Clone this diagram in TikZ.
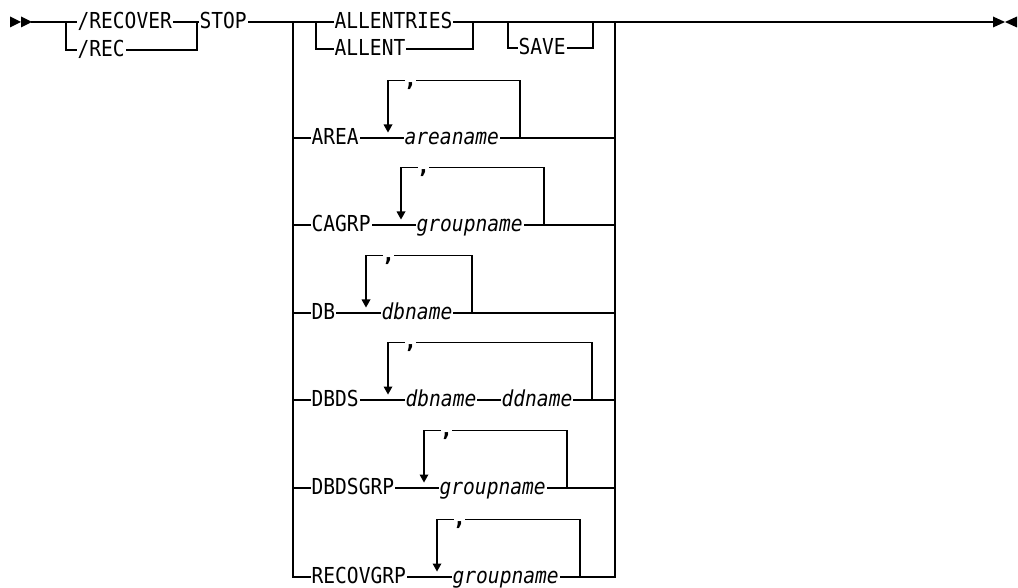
\documentclass[tikz,border=0pt]{standalone}
\usepackage{fontspec}
\usepackage{graphicx}
\newfontfamily\rrfont{DejaVu Sans Mono}
\newcommand\rrsize{\fontsize{22}{24}\selectfont}
\newcommand\rt[1]{\scalebox{0.89}[1]{#1}}
% #1 id, #2 row y, #3 keyword, #4 loop left x, #5 loop right x, #6 var x, #7 var text
\newcommand\rrrow[7]{%
  \coordinate (#1in) at (293,#2);
  \coordinate (#1out) at (615,#2);
  \node[kw] (#1k) at (310,#2) {\rt{#3}};
  \node[var] (#1v) at (#6,#2) {\rt{#7}};
  \draw (#1in) -- (#1k.west);
  \draw (#1k.east) -- (#1v.west);
  \draw (#1v.east) -- (#1out);
  \rrloop{#1}{#2}{#4}{#5}%
}
% repeat loop: #1 id, #2 row y, #3 left x, #4 right x
\newcommand\rrloop[4]{%
  \coordinate (#1tl) at (#3,#2-57.5);
  \coordinate (#1tr) at (#4,#2-57.5);
  \coordinate (#1rb) at (#4,#2);
  \coordinate (#1ar) at (#3,#2-13);
  \node[comma] (#1c) at (#3+22.5,#2-51.5) {,};
  \draw (#1rb) -- (#1tr) -- (#3+29,#2-57.5);
  \draw (#3+16,#2-57.5) -- (#1tl) -- (#1ar);
  \fill (#3-4.5,#2-13.5) -- (#3+4.5,#2-13.5) -- (#3,#2-5.5) -- cycle;
}
\begin{document}
\begin{tikzpicture}[x=1pt,y=-1pt,line width=1.2pt,line cap=rect,
  kw/.style={font=\rrfont\rrsize,inner ysep=0pt,inner xsep=1pt,
    text height=15pt,text depth=2pt,anchor=west},
  var/.style={kw,font=\rrfont\itshape\rrsize},
  comma/.style={font=\rrfont\bfseries\rrsize,inner sep=0pt,anchor=base}]
\useasboundingbox (0,0) rectangle (1018,588);
% start marks
\fill (10,16.5) -- (21,22) -- (10,27.5) -- cycle;
\fill (21,16.5) -- (32,22) -- (21,27.5) -- cycle;
\coordinate (start) at (32,22);
% /RECOVER | /REC
\coordinate (b1) at (66,22);
\coordinate (b1r) at (197,22);
\node[kw] (recover) at (76,22) {\rt{/RECOVER}};
\node[kw] (rec) at (76,50) {\rt{/REC}};
\draw (start) -- (recover.west);
\draw (b1) |- (rec.west);
\draw (recover.east) -- (b1r);
\draw (rec.east) -| (b1r);
\node[kw] (stop) at (198,22) {\rt{STOP}};
\draw (b1r) -- (stop.west);
% big choice
\coordinate (L) at (293,22);
\coordinate (R) at (615,22);
\coordinate (Lb) at (293,577);
\coordinate (Rb) at (615,577);
\draw (stop.east) -- (L) -- (Lb);
\draw (R) -- (Rb);
% ALLENTRIES | ALLENT
\coordinate (a1) at (316,22);
\coordinate (a2) at (473,22);
\node[kw] (allentries) at (333,22) {\rt{ALLENTRIES}};
\node[kw] (allent) at (333,49) {\rt{ALLENT}};
\draw (L) -- (allentries.west);
\draw (a1) |- (allent.west);
\draw (allentries.east) -- (a2);
\draw (allent.east) -| (a2);
% optional SAVE
\coordinate (s1) at (508,22);
\coordinate (s2) at (593,22);
\node[kw] (save) at (517,48) {\rt{SAVE}};
\draw (a2) -- (R);
\draw (s1) |- (save.west);
\draw (save.east) -| (s2);
% end
\coordinate (end) at (993,22);
\draw (R) -- (end);
\fill (993,16.5) -- (1005,22) -- (993,27.5) -- cycle;
\fill (1017,16.5) -- (1005,22) -- (1017,27.5) -- cycle;
% rows
\rrrow{area}{138}{AREA}{388}{520}{403}{areaname}
\rrrow{cagrp}{225}{CAGRP}{401}{544}{415}{groupname}
\rrrow{db}{313}{DB}{366}{472}{380}{dbname}
% DBDS row (two variables)
\coordinate (dbdsin) at (293,400);
\coordinate (dbdsout) at (615,400);
\node[kw] (dbdsk) at (310,400) {\rt{DBDS}};
\node[var] (dbdsv) at (404,400) {\rt{dbname}};
\node[var] (dbdsw) at (500,400) {\rt{ddname}};
\draw (dbdsin) -- (dbdsk.west);
\draw (dbdsk.east) -- (dbdsv.west);
\draw (dbdsv.east) -- (dbdsw.west);
\draw (dbdsw.east) -- (dbdsout);
\rrloop{dbds}{400}{388}{592}
\rrrow{dbdsgrp}{488}{DBDSGRP}{424}{567}{438}{groupname}
\rrrow{recovgrp}{577}{RECOVGRP}{437}{580}{451}{groupname}
\end{tikzpicture}
\end{document}
